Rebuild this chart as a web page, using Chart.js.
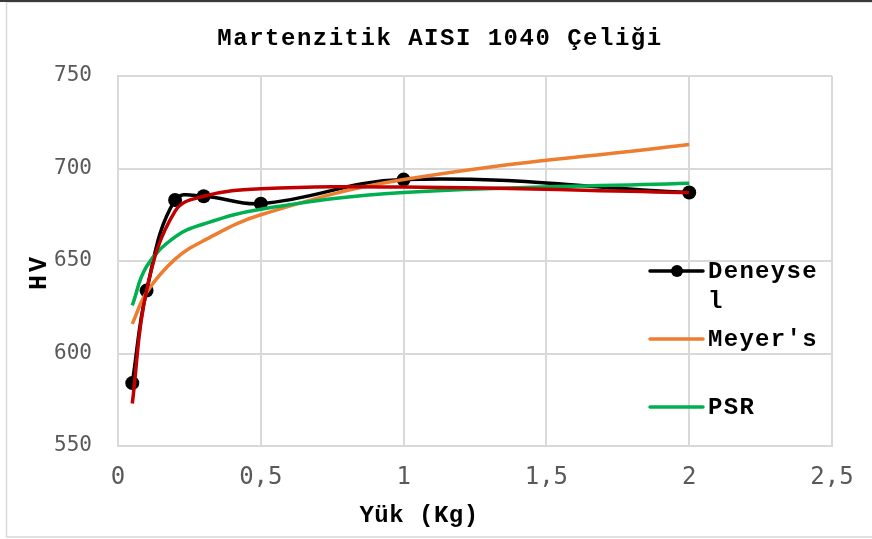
<!DOCTYPE html>
<html>
<head>
<meta charset="utf-8">
<script src="https://cdn.jsdelivr.net/npm/chart.js@4"></script>
<style>
  html, body { margin: 0; padding: 0; background: #ffffff; }
  #wrap { width: 872px; height: 539px; position: relative; }
</style>
</head>
<body>
<div id="wrap"><canvas id="chart" width="872" height="539"></canvas></div>
<script>
// Load (kg) at which hardness was measured
const loads = [0.05, 0.1, 0.2, 0.3, 0.5, 1, 2];
// Measured Vickers hardness
const deneysel = [584, 634, 683, 685, 681, 694, 687];
// Meyer's law fit
const meyers = [616, 633, 651, 661, 675, 694, 713];
// PSR model fit
const psr = [626, 647, 663, 670, 678, 687, 692];
// Additional model curve
const model = [573, 634, 677, 685, 689, 690, 687];

const xTickLabels = ['0', '0,5', '1', '1,5', '2', '2,5'];
const yTickLabels = ['550', '600', '650', '700', '750'];

const chartTitle = 'Martenzitik AISI 1040 Çeliği';
const xTitle = 'Yük (Kg)';
const yTitle = 'HV';

const toPoints = (ys) => loads.map((x, i) => ({ x: x, y: ys[i] }));

const MONO_BOLD = 'bold 24px "Liberation Mono", "Courier New", monospace';

// Legend entries drawn at the right side, over the plot area
const legendItems = [
  { lines: ['Deneyse', 'l'], color: '#000000', marker: true, y: 271 },
  { lines: ["Meyer's"], color: '#ED7D31', marker: false, y: 339 },
  { lines: ['PSR'], color: '#00B050', marker: false, y: 407 }
];

const decorPlugin = {
  id: 'decor',
  afterDraw(chart) {
    const ctx = chart.ctx;
    ctx.save();

    // outer frame
    ctx.strokeStyle = '#D9D9D9';
    ctx.lineWidth = 1.5;
    ctx.strokeRect(6.5, 2, 900, 535);
    ctx.strokeStyle = '#3a3a3a';
    ctx.lineWidth = 2;
    ctx.beginPath();
    ctx.moveTo(0, 1);
    ctx.lineTo(872, 1);
    ctx.stroke();

    ctx.fillStyle = '#000000';
    ctx.font = MONO_BOLD;
    if ('letterSpacing' in ctx) ctx.letterSpacing = '1.5px';

    // chart title
    ctx.textAlign = 'center';
    ctx.textBaseline = 'alphabetic';
    ctx.fillText(chartTitle, 440, 45);

    // x axis title
    if ('letterSpacing' in ctx) ctx.letterSpacing = '0.5px';
    ctx.fillText(xTitle, 419, 522);

    // y axis title
    ctx.save();
    ctx.translate(46, 272);
    ctx.rotate(-Math.PI / 2);
    ctx.font = 'bold 25px "Liberation Mono", "Courier New", monospace';
    if ('letterSpacing' in ctx) ctx.letterSpacing = '3px';
    ctx.fillText(yTitle, 0, 0);
    ctx.restore();

    // legend
    ctx.font = MONO_BOLD;
    if ('letterSpacing' in ctx) ctx.letterSpacing = '1.3px';
    ctx.textAlign = 'left';
    legendItems.forEach((item) => {
      ctx.strokeStyle = item.color;
      ctx.lineWidth = 3.5;
      ctx.lineCap = 'round';
      ctx.beginPath();
      ctx.moveTo(650, item.y);
      ctx.lineTo(703, item.y);
      ctx.stroke();
      if (item.marker) {
        ctx.fillStyle = item.color;
        ctx.beginPath();
        ctx.arc(677, item.y, 6, 0, Math.PI * 2);
        ctx.fill();
      }
      ctx.fillStyle = '#000000';
      item.lines.forEach((t, k) => {
        ctx.fillText(t, 708, item.y + 7 + k * 30);
      });
    });

    ctx.restore();
  }
};

const lineDs = (label, ys, color, order, withMarkers) => ({
  label: label,
  data: toPoints(ys),
  showLine: true,
  borderColor: color,
  backgroundColor: color,
  borderWidth: 3.5,
  tension: 0.4,
  pointRadius: withMarkers ? 7 : 0,
  pointHoverRadius: withMarkers ? 7 : 0,
  pointBorderWidth: 0,
  order: order,
  clip: false
});

new Chart(document.getElementById('chart'), {
  type: 'scatter',
  data: {
    datasets: [
      lineDs('Deneysel', deneysel, '#000000', 4, true),
      lineDs("Meyer's", meyers, '#ED7D31', 3, false),
      lineDs('PSR', psr, '#00B050', 2, false),
      lineDs('Model', model, '#C00000', 1, false)
    ]
  },
  options: {
    responsive: false,
    animation: false,
    events: [],
    layout: { padding: { left: 0, right: 40, top: 76, bottom: 0 } },
    plugins: {
      legend: { display: false },
      title: { display: false },
      tooltip: { enabled: false }
    },
    scales: {
      x: {
        type: 'linear',
        min: 0,
        max: 2.5,
        afterBuildTicks(scale) {
          scale.ticks = xTickLabels.map((_, i) => ({ value: i * 0.5 }));
        },
        afterFit(scale) { scale.height = 93; },
        grid: { color: '#D9D9D9', lineWidth: 2, drawTicks: false },
        border: { display: true, color: '#D9D9D9', width: 2 },
        ticks: {
          padding: 17,
          color: '#595959',
          font: { family: '"DejaVu Sans Mono", monospace', size: 24 },
          maxRotation: 0,
          callback: (v, i) => xTickLabels[i]
        }
      },
      y: {
        type: 'linear',
        min: 550,
        max: 750,
        afterBuildTicks(scale) {
          scale.ticks = yTickLabels.map((t) => ({ value: Number(t) }));
        },
        afterFit(scale) { scale.width = 118; },
        grid: { color: '#D9D9D9', lineWidth: 2, drawTicks: false },
        border: { display: true, color: '#D9D9D9', width: 2 },
        ticks: {
          padding: 26,
          color: '#595959',
          font: { family: '"DejaVu Sans Mono", monospace', size: 21 },
          callback: (v, i) => yTickLabels[i]
        }
      }
    }
  },
  plugins: [decorPlugin]
});
</script>
</body>
</html>
